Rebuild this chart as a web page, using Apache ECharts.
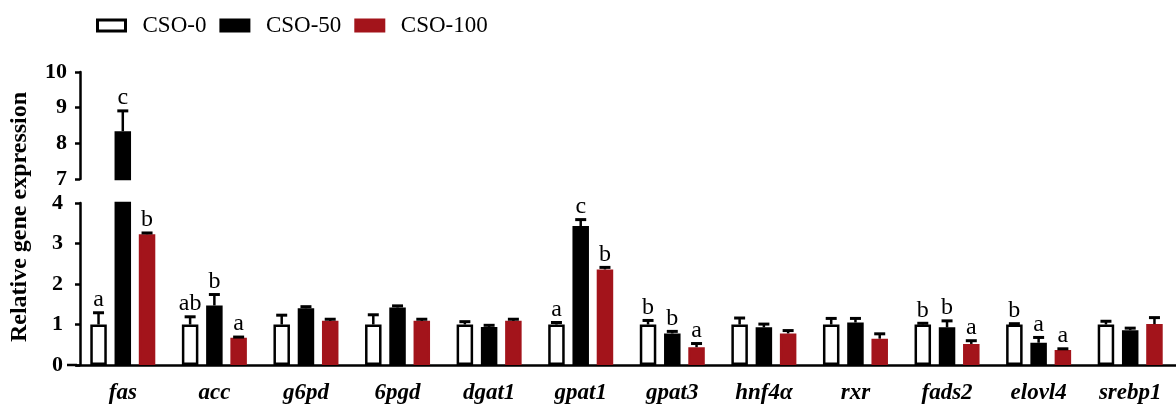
<!DOCTYPE html>
<html>
<head>
<meta charset="utf-8">
<script src="https://cdn.jsdelivr.net/npm/echarts@6/dist/echarts.min.js"></script>
<style>
  html, body { margin: 0; padding: 0; background: #fff; }
  #chart { width: 1176px; height: 411px; }
</style>
</head>
<body>
<div id="chart"></div>
<script>
// Genes on the x axis
const categories = ['fas', 'acc', 'g6pd', '6pgd', 'dgat1', 'gpat1', 'gpat3', 'hnf4α', 'rxr', 'fads2', 'elovl4', 'srebp1'];

// Group means and upper error (SE) for each gene
const cso0 = [1.00, 1.00, 1.00, 1.00, 1.00, 1.00, 1.00, 1.00, 1.00, 1.00, 1.00, 1.00];
const cso0Err = [0.29, 0.19, 0.23, 0.24, 0.07, 0.05, 0.10, 0.16, 0.15, 0.03, 0.02, 0.08];
const cso50 = [8.34, 1.47, 1.40, 1.42, 0.94, 3.43, 0.78, 0.93, 1.05, 0.93, 0.55, 0.86];
const cso50Err = [0.57, 0.27, 0.04, 0.04, 0.04, 0.16, 0.05, 0.08, 0.10, 0.16, 0.13, 0.05];
const cso100 = [3.23, 0.67, 1.09, 1.09, 1.09, 2.36, 0.44, 0.78, 0.65, 0.52, 0.37, 1.01];
const cso100Err = [0.03, 0.02, 0.04, 0.04, 0.04, 0.05, 0.09, 0.07, 0.12, 0.08, 0.03, 0.16];

// Significance letters (empty = not marked)
const cso0Sig = ['a', 'ab', '', '', '', 'a', 'b', '', '', 'b', 'b', ''];
const cso50Sig = ['c', 'b', '', '', '', 'c', 'b', '', '', 'b', 'a', ''];
const cso100Sig = ['b', 'a', '', '', '', 'b', 'a', '', '', 'a', 'a', ''];

// Broken value axis: lower segment and upper segment
const lowerTicks = [0, 1, 2, 3, 4];
const upperTicks = [7, 8, 9, 10];

const FONT = "'Liberation Serif', 'Times New Roman', serif";
const RED = '#a3141b';
const AXIS_W = 2.5;

// layout
const GRID_LEFT = 77, GRID_RIGHT = -6;
const UP_TOP = 72, UP_H = 107;
const LO_TOP = 203, LO_H = 162;
const BAR_W = 16.5, BAR_GAP = 0.47, BORDER = 2.5;
const STEP = BAR_W * (1 + BAR_GAP);

const groups = [
  { name: 'CSO-0', mean: cso0, err: cso0Err, sig: cso0Sig, fill: '#ffffff', edge: '#000000', shift: -STEP },
  { name: 'CSO-50', mean: cso50, err: cso50Err, sig: cso50Sig, fill: '#000000', edge: '#000000', shift: 0 },
  { name: 'CSO-100', mean: cso100, err: cso100Err, sig: cso100Sig, fill: RED, edge: RED, shift: STEP }
];

const lowMax = lowerTicks[lowerTicks.length - 1];
const upMin = upperTicks[0];

function barSeries(g, gridIdx) {
  const data = gridIdx === 1
    ? g.mean.slice()
    : g.mean.map(v => (v > upMin ? v : '-'));
  return {
    type: 'bar',
    name: g.name,
    xAxisIndex: gridIdx,
    yAxisIndex: gridIdx,
    data: data,
    barWidth: BAR_W,
    barGap: (BAR_GAP * 100) + '%',
    clip: true,
    itemStyle: { color: g.fill, borderColor: g.edge, borderWidth: BORDER },
    emphasis: { disabled: true },
    z: 2
  };
}

function errorSeries(g, gridIdx) {
  const data = [];
  g.mean.forEach((v, i) => {
    const top = v + g.err[i];
    if (gridIdx === 1 && top <= lowMax) data.push([i, v, top]);
    if (gridIdx === 0 && v > upMin) data.push([i, v, top]);
  });
  return {
    type: 'custom',
    name: g.name + ' err',
    xAxisIndex: gridIdx,
    yAxisIndex: gridIdx,
    data: data,
    encode: { x: 0, y: 2 },
    z: 5,
    silent: true,
    renderItem: function (params, api) {
      const idx = api.value(0);
      const base = api.coord([idx, api.value(1)]);
      const tip = api.coord([idx, api.value(2)]);
      const x = base[0] + g.shift;
      const children = [
        { type: 'line', shape: { x1: x, y1: base[1], x2: x, y2: tip[1] },
          style: { stroke: '#000', lineWidth: 2.5 } },
        { type: 'line', shape: { x1: x - 5.5, y1: tip[1], x2: x + 5.5, y2: tip[1] },
          style: { stroke: '#000', lineWidth: 3 } }
      ];
      const letter = g.sig[idx];
      if (letter) {
        children.push({
          type: 'text',
          style: {
            text: letter, x: x, y: tip[1] - 1,
            align: 'center', verticalAlign: 'bottom',
            font: '24px ' + FONT, fill: '#000'
          }
        });
      }
      return { type: 'group', children: children };
    }
  };
}

const valueAxisCommon = {
  type: 'value',
  interval: 1,
  offset: -3,
  splitLine: { show: false },
  axisLine: { show: true, lineStyle: { color: '#000', width: AXIS_W } },
  axisTick: { show: true, length: 5, lineStyle: { color: '#000', width: AXIS_W } }
};

const chart = echarts.init(document.getElementById('chart'), null, { renderer: 'canvas' });

const option = {
  animation: false,
  backgroundColor: '#ffffff',
  legend: {
    left: 91,
    top: 9,
    itemWidth: 28,
    itemHeight: 11,
    itemGap: 13,
    icon: 'rect',
    selectedMode: false,
    textStyle: { fontFamily: FONT, fontSize: 23, color: '#000', padding: [0, 0, 0, 12] },
    data: groups.map(g => ({
      name: g.name,
      itemStyle: { color: g.fill, borderColor: g.edge, borderWidth: 3 }
    }))
  },
  grid: [
    { left: GRID_LEFT, right: GRID_RIGHT, top: UP_TOP, height: UP_H },
    { left: GRID_LEFT, right: GRID_RIGHT, top: LO_TOP, height: LO_H }
  ],
  xAxis: [
    { type: 'category', gridIndex: 0, data: categories, show: false },
    {
      type: 'category', gridIndex: 1, data: categories,
      axisLine: { lineStyle: { color: '#000', width: AXIS_W } },
      axisTick: { alignWithLabel: true, length: 12, lineStyle: { color: '#000', width: AXIS_W } },
      axisLabel: {
        margin: 17, color: '#000', fontFamily: FONT, fontSize: 23,
        fontStyle: 'italic', fontWeight: 'bold', interval: 0
      }
    }
  ],
  yAxis: [
    Object.assign({}, valueAxisCommon, {
      gridIndex: 0, min: upperTicks[0], max: upperTicks[upperTicks.length - 1],
      axisLabel: { margin: 13, color: '#000', fontFamily: FONT, fontSize: 22, fontWeight: 'bold' }
    }),
    Object.assign({}, valueAxisCommon, {
      gridIndex: 1, min: lowerTicks[0], max: lowMax,
      axisLabel: { margin: 17, color: '#000', fontFamily: FONT, fontSize: 22, fontWeight: 'bold' }
    })
  ],
  graphic: [
    {
      type: 'text',
      x: 20,
      y: 217,
      rotation: Math.PI / 2,
      style: {
        text: 'Relative gene expression',
        font: 'bold 24px ' + FONT,
        fill: '#000',
        align: 'center',
        verticalAlign: 'middle'
      }
    },
    {
      type: 'line',
      shape: { x1: 67, y1: LO_TOP + LO_H, x2: GRID_LEFT, y2: LO_TOP + LO_H },
      style: { stroke: '#000', lineWidth: AXIS_W }
    }
  ],
  series: [
    ...groups.map(g => barSeries(g, 1)),
    ...groups.map(g => barSeries(g, 0)),
    ...groups.map(g => errorSeries(g, 1)),
    ...groups.map(g => errorSeries(g, 0))
  ]
};

chart.setOption(option);
</script>
</body>
</html>
